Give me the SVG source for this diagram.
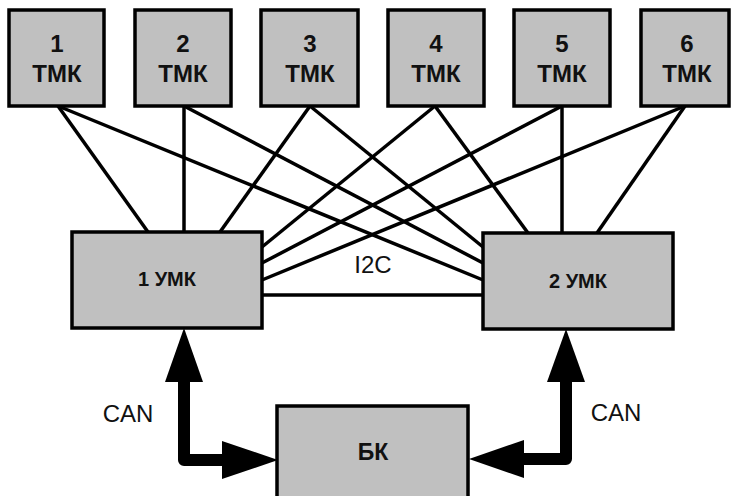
<svg xmlns="http://www.w3.org/2000/svg" width="731" height="496" viewBox="0 0 731 496">
<style>
.box{fill:#c0c0c0;stroke:#000;stroke-width:3.5}
.b{font-family:"Liberation Sans",Arial,sans-serif;font-weight:bold;fill:#111;text-anchor:middle}
.r{font-family:"Liberation Sans",Arial,sans-serif;fill:#111;text-anchor:middle;font-size:24px}
.ln{stroke:#000;stroke-width:3.5;fill:none}
.can{stroke:#000;stroke-width:12;fill:none;stroke-linejoin:round}
</style>
<rect width="731" height="496" fill="#fff"/>
<g id="connectors">
<line class="ln" x1="58" y1="106" x2="148" y2="232"/>
<line class="ln" x1="184" y1="106" x2="184" y2="232"/>
<line class="ln" x1="310" y1="106" x2="220" y2="232"/>
<line class="ln" x1="435" y1="106" x2="262" y2="247"/>
<line class="ln" x1="562" y1="106" x2="262" y2="263"/>
<line class="ln" x1="685" y1="106" x2="262" y2="280"/>
<line class="ln" x1="310" y1="106" x2="483" y2="247"/>
<line class="ln" x1="184" y1="106" x2="483" y2="263"/>
<line class="ln" x1="58" y1="106" x2="483" y2="280"/>
<line class="ln" x1="435" y1="106" x2="528" y2="233"/>
<line class="ln" x1="562" y1="106" x2="562" y2="233"/>
<line class="ln" x1="685" y1="106" x2="597" y2="233"/>
<line class="ln" x1="262" y1="295" x2="483" y2="295"/>
<text class="r" x="373" y="273">I2C</text>
<path class="can" d="M184,380 V460 H224"/>
<polygon points="184,328 165,382 203,382"/>
<polygon points="278,460 222,441 222,479"/>
<path class="can" d="M566,380 V459 H522"/>
<polygon points="566,329 547,382 585,382"/>
<polygon points="469,459 524,440 524,478"/>
<text class="r" x="128" y="422">CAN</text>
<text class="r" x="616" y="421">CAN</text>
</g>
<g id="tmk1"><rect class="box" x="9" y="10" width="95" height="96"/><text class="b" x="57" y="52" font-size="24">1</text><text class="b" x="57" y="82" font-size="24">ТМК</text></g>
<g id="tmk2"><rect class="box" x="135" y="10" width="96" height="96"/><text class="b" x="183" y="52" font-size="24">2</text><text class="b" x="183" y="82" font-size="24">ТМК</text></g>
<g id="tmk3"><rect class="box" x="261" y="10" width="97" height="96"/><text class="b" x="310" y="52" font-size="24">3</text><text class="b" x="310" y="82" font-size="24">ТМК</text></g>
<g id="tmk4"><rect class="box" x="388" y="10" width="96" height="96"/><text class="b" x="436" y="52" font-size="24">4</text><text class="b" x="436" y="82" font-size="24">ТМК</text></g>
<g id="tmk5"><rect class="box" x="514" y="10" width="96" height="96"/><text class="b" x="562" y="52" font-size="24">5</text><text class="b" x="562" y="82" font-size="24">ТМК</text></g>
<g id="tmk6"><rect class="box" x="641" y="10" width="88" height="96"/><text class="b" x="687" y="52" font-size="24">6</text><text class="b" x="687" y="82" font-size="24">ТМК</text></g>
<g id="umk1"><rect class="box" x="72" y="232" width="190" height="96"/><text class="b" x="167" y="286" font-size="20">1 УМК</text></g>
<g id="umk2"><rect class="box" x="483" y="233" width="190" height="96"/><text class="b" x="578" y="288" font-size="20">2 УМК</text></g>
<g id="bk"><rect class="box" x="277" y="406" width="191" height="100"/><text class="b" x="373" y="460" font-size="23">БК</text></g>
</svg>
